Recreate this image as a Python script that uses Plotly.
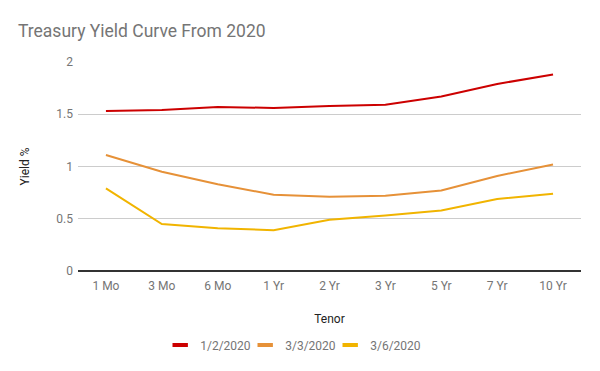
import plotly.graph_objects as go

tenors = ["1 Mo", "3 Mo", "6 Mo", "1 Yr", "2 Yr", "3 Yr", "5 Yr", "7 Yr", "10 Yr"]
series_names = ["1/2/2020", "3/3/2020", "3/6/2020"]
y_jan2 = [1.53, 1.54, 1.57, 1.56, 1.58, 1.59, 1.67, 1.79, 1.88]
y_mar3 = [1.11, 0.95, 0.83, 0.73, 0.71, 0.72, 0.77, 0.91, 1.02]
y_mar6 = [0.79, 0.45, 0.41, 0.39, 0.49, 0.53, 0.58, 0.69, 0.74]
colors = ["#cc0000", "#e69138", "#f1b400"]

fig = go.Figure()
for name, ys, c in zip(series_names, [y_jan2, y_mar3, y_mar6], colors):
    fig.add_trace(go.Scatter(x=tenors, y=ys, mode="lines", name=name,
                             line=dict(color=c, width=2), showlegend=False,
                             hoverinfo="x+y+name"))
for name, c in zip(series_names, colors):
    fig.add_trace(go.Scatter(x=[None], y=[None], mode="markers", name=name,
                             marker=dict(symbol="line-ew", size=11, color=c,
                                         line=dict(color=c, width=4)),
                             showlegend=True))
# spacer entry so the last legend label is not clipped
fig.add_trace(go.Scatter(x=[None], y=[None], mode="markers", name=" ",
                         marker=dict(symbol="line-ew", size=1, color="rgba(0,0,0,0)",
                                     line=dict(color="rgba(0,0,0,0)", width=0)),
                         showlegend=True, hoverinfo="skip"))

fig.update_layout(
    width=600, height=371,
    margin=dict(l=78, r=19, t=62, b=100),
    paper_bgcolor="white", plot_bgcolor="white",
    font=dict(family="Roboto, Arial, sans-serif", color="#757575", size=12),
    title=dict(text="Treasury Yield Curve From 2020", xref="container", x=0.03,
               xanchor="left", yref="container", y=1 - 31 / 371, yanchor="middle",
               font=dict(size=17.5, color="#757575")),
    xaxis=dict(type="category", range=[-0.5, 8.5], showgrid=False, automargin=False,
               showline=False, zeroline=False, ticks="", ticklabelstandoff=6,
               tickfont=dict(size=12, color="#757575"),
               title=dict(text="Tenor", standoff=22, font=dict(size=12, color="#222222"))),
    yaxis=dict(range=[0, 2], dtick=0.5, showgrid=True, gridcolor="#cccccc", automargin=False,
               gridwidth=1, zeroline=True, zerolinecolor="#333333", zerolinewidth=1.5,
               showline=False, ticks="", ticklabelstandoff=4,
               tickfont=dict(size=12, color="#757575"),
               tickformat="~g",
               title=dict(text="Yield %", standoff=24, font=dict(size=12, color="#222222"))),
    legend=dict(orientation="h", xref="container", yref="container", x=0.267, xanchor="left",
                y=1 - 345 / 371, yanchor="middle", font=dict(size=12, color="#757575"),
                itemwidth=30, entrywidth=40, entrywidthmode="pixels", traceorder="normal"),
)

fig.write_html("out.html", config={"displayModeBar": False},
               post_script="document.body.style.margin='0';document.body.style.padding='0';")
